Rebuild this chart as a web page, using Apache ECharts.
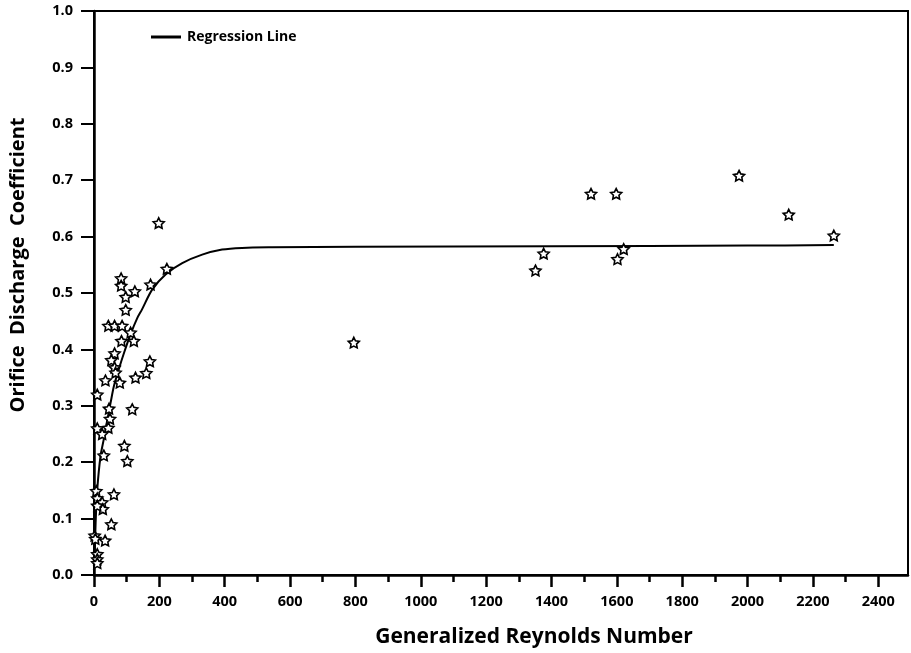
<!DOCTYPE html>
<html>
<head>
<meta charset="utf-8">
<script src="https://cdn.jsdelivr.net/npm/echarts@6/dist/echarts.min.js"></script>
<style>html,body{margin:0;padding:0;background:#fff;}#c{width:911px;height:653px;}</style>
</head>
<body>
<div id="c"></div>
<script>
// Observed data points (Generalized Reynolds Number, Orifice Discharge Coefficient)
const reynolds = [198, 223, 173, 83, 83, 125, 97, 97, 44, 63, 86, 112, 84, 122, 63, 53, 63, 66, 171, 160, 127, 35, 79, 10, 46, 117, 49, 44, 10, 25, 30, 93, 102, 7, 61, 10, 25, 27, 10, 53, 2, 4, 34, 10, 10, 10, 795, 1351, 1376, 1521, 1598, 1602, 1621, 1974, 2126, 2264];
const coeff = [0.624, 0.543, 0.515, 0.526, 0.513, 0.503, 0.493, 0.470, 0.442, 0.442, 0.442, 0.430, 0.415, 0.415, 0.393, 0.381, 0.368, 0.359, 0.379, 0.358, 0.350, 0.345, 0.341, 0.320, 0.295, 0.294, 0.277, 0.261, 0.260, 0.250, 0.212, 0.229, 0.202, 0.149, 0.143, 0.136, 0.129, 0.117, 0.123, 0.090, 0.070, 0.064, 0.061, 0.037, 0.028, 0.021, 0.412, 0.540, 0.570, 0.676, 0.676, 0.560, 0.578, 0.708, 0.639, 0.602];

// Regression line
const regX = [2, 5, 10, 20, 30, 41, 51, 61, 76, 92, 112, 132, 147, 178, 219, 270, 331, 392, 453, 545, 800, 1400, 2000, 2264];
const regY = [0.030, 0.093, 0.152, 0.211, 0.241, 0.276, 0.306, 0.335, 0.365, 0.394, 0.427, 0.455, 0.471, 0.506, 0.533, 0.553, 0.568, 0.577, 0.580, 0.581, 0.582, 0.583, 0.584, 0.585];

// Axis ticks
const xMajorTicks = [0, 200, 400, 600, 800, 1000, 1200, 1400, 1600, 1800, 2000, 2200, 2400];
const xMinorTicks = [100, 300, 500, 700, 900, 1100, 1300, 1500, 1700, 1900, 2100, 2300];

const FONT = "'Open Sans', 'DejaVu Sans', sans-serif";
const STAR = 'path://M0,-10 L2.94,-4.05 L9.51,-3.09 L4.76,1.55 L5.88,8.09 L0,5 L-5.88,8.09 L-4.76,1.55 L-9.51,-3.09 L-2.94,-4.05 Z';

const chart = echarts.init(document.getElementById('c'), null, {renderer: 'canvas'});
const xMin = 0, xMax = 2491;

chart.setOption({
  animation: false,
  backgroundColor: '#fff',
  grid: {left: 92, right: 3, top: 11, bottom: 77, show: true, borderColor: '#000', borderWidth: 2, containLabel: false},
  legend: {
    data: ['Regression Line'],
    left: 146, top: 25,
    icon: 'rect', itemWidth: 30, itemHeight: 3,
    itemGap: 8,
    textStyle: {fontFamily: FONT, fontWeight: 'bold', fontSize: 14, color: '#000', padding: [0, 0, 0, 1]}
  },
  xAxis: [{
    type: 'value', min: xMin, max: xMax,
    name: 'Generalized Reynolds Number', nameLocation: 'middle', nameGap: 52,
    nameTextStyle: {fontFamily: FONT, fontWeight: 'bold', fontSize: 21, color: '#000', padding: [0, 0, 0, 66]},
    axisLine: {show: true, lineStyle: {color: '#000', width: 2.5}},
    axisTick: {show: true, inside: false, length: 12, customValues: xMajorTicks, lineStyle: {color: '#000', width: 2.5}},
    axisLabel: {customValues: xMajorTicks, margin: 19, fontFamily: FONT, fontWeight: 'bold', fontSize: 14.5, color: '#000',
      formatter: v => String(v)},
    splitLine: {show: false}
  }, {
    type: 'value', min: xMin, max: xMax, position: 'bottom',
    axisLine: {show: false},
    axisTick: {show: true, inside: false, length: 7, customValues: xMinorTicks, lineStyle: {color: '#000', width: 2.5}},
    axisLabel: {show: false},
    splitLine: {show: false}
  }],
  yAxis: {
    type: 'value', min: 0, max: 1, interval: 0.1,
    name: 'Orifice  Discharge  Coefficient', nameLocation: 'middle', nameGap: 66, nameRotate: 90,
    nameTextStyle: {fontFamily: FONT, fontWeight: 'bold', fontSize: 20, color: '#000', padding: [0, 0, 0, 56]},
    axisLine: {show: true, lineStyle: {color: '#000', width: 2.5}},
    axisTick: {show: true, inside: false, length: 13, lineStyle: {color: '#000', width: 2}},
    axisLabel: {margin: 21, fontFamily: FONT, fontWeight: 'bold', fontSize: 14.5, color: '#000',
      formatter: v => v.toFixed(1)},
    splitLine: {show: false}
  },
  series: [{
    name: 'Regression Line', type: 'line', xAxisIndex: 0,
    data: regX.map((x, i) => [x, regY[i]]),
    showSymbol: false, symbol: 'none', smooth: 0.3,
    lineStyle: {color: '#000', width: 2},
    itemStyle: {color: '#000'},
    z: 3
  }, {
    name: 'Observed', type: 'scatter', xAxisIndex: 0,
    data: reynolds.map((x, i) => [x, coeff[i]]),
    symbol: STAR, symbolSize: 11, symbolKeepAspect: true,
    itemStyle: {color: '#fff', borderColor: '#000', borderWidth: 1.6, opacity: 1},
    z: 4
  }]
});
</script>
</body>
</html>
